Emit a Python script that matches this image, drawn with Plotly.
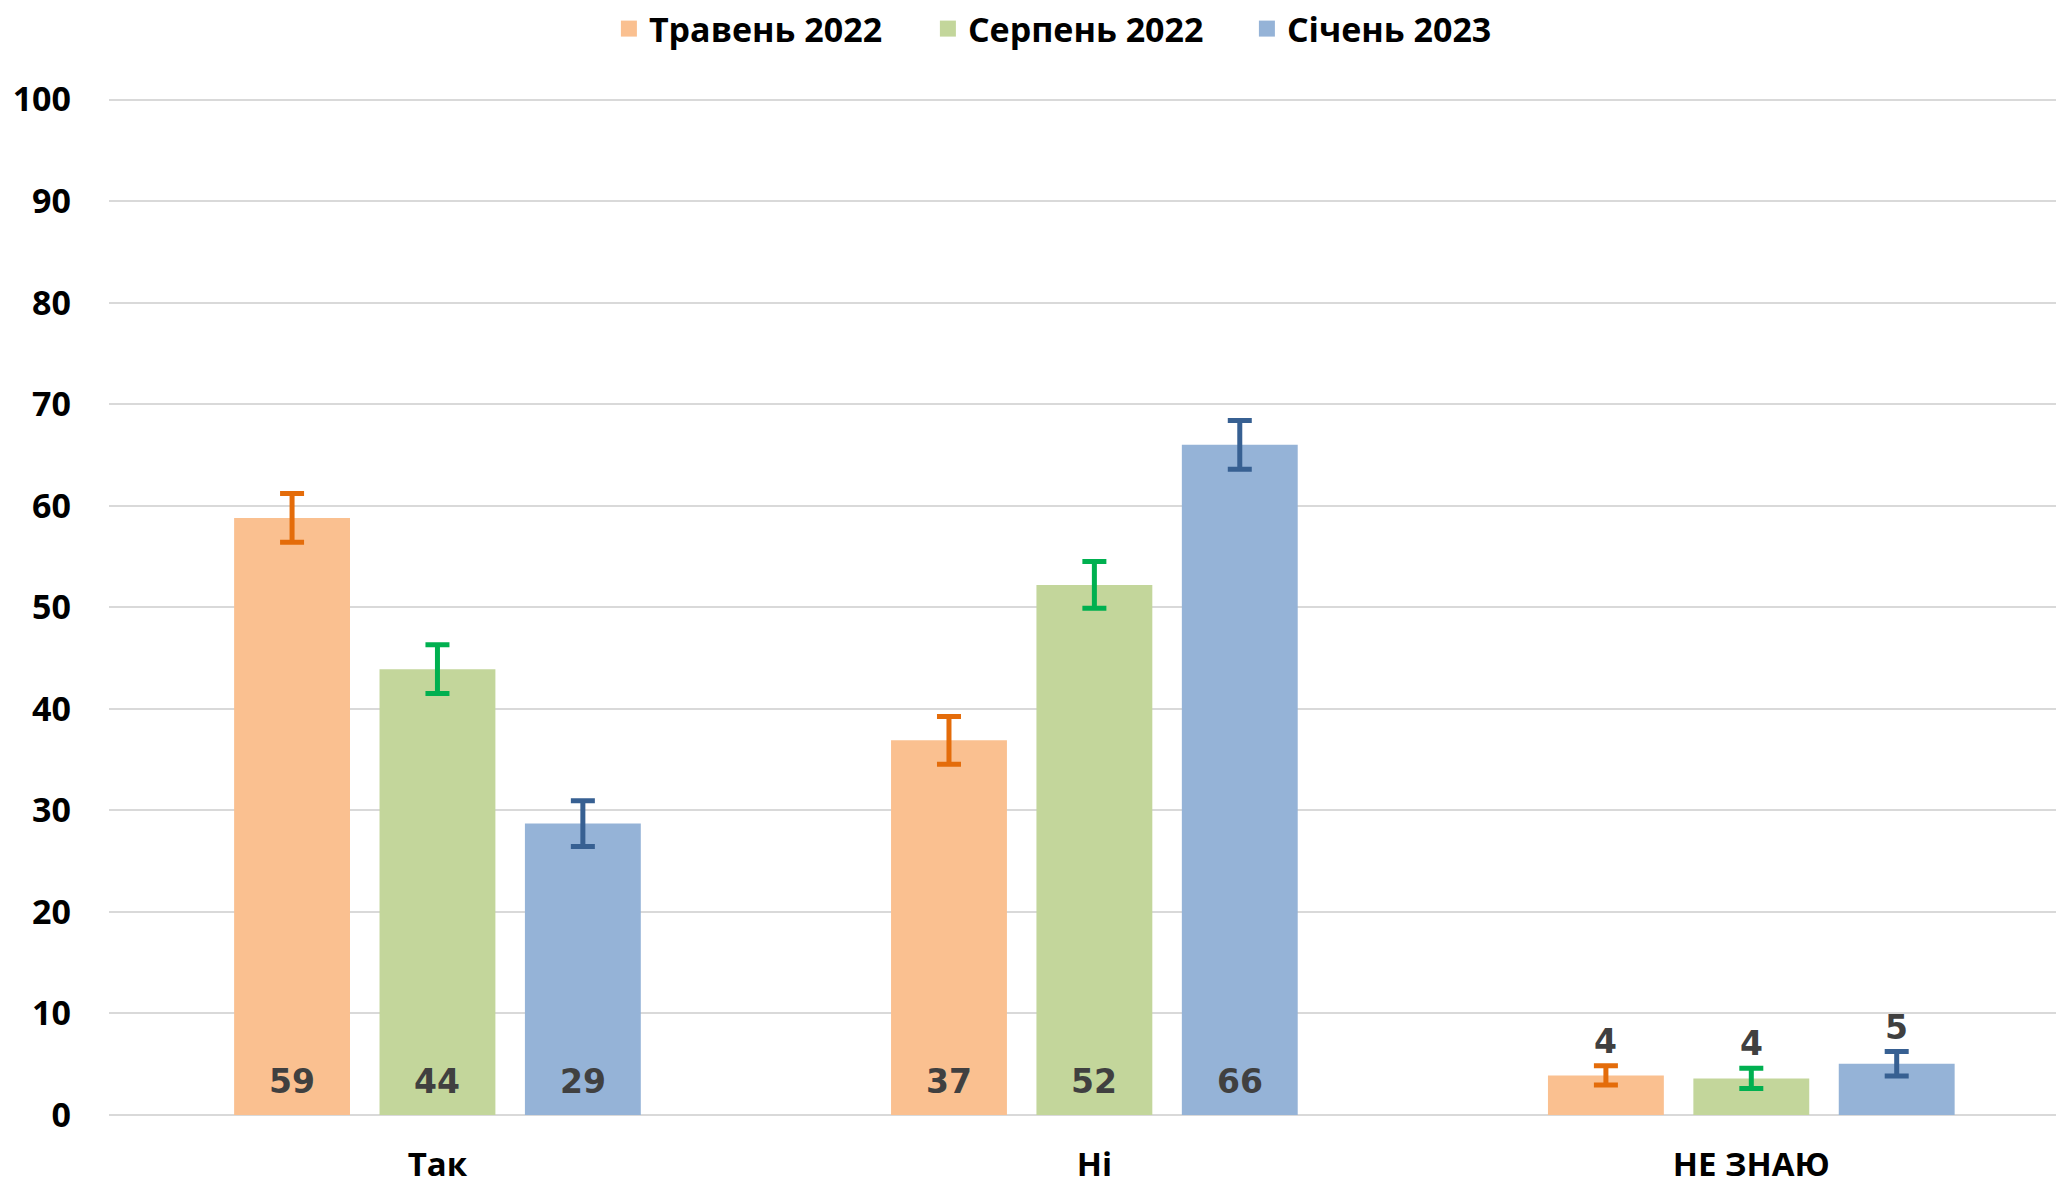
import plotly.graph_objects as go

categories = ["Так", "Ні", "НЕ ЗНАЮ"]
series_names = ["Травень 2022", "Серпень 2022", "Січень 2023"]
may_2022 = [58.8, 36.9, 3.9]
aug_2022 = [43.9, 52.2, 3.6]
jan_2023 = [28.7, 66.0, 5.05]
may_err = [2.4, 2.35, 0.95]
aug_err = [2.4, 2.3, 1.0]
jan_err = [2.25, 2.4, 1.2]
y_ticks = [0, 10, 20, 30, 40, 50, 60, 70, 80, 90, 100]

values = [may_2022, aug_2022, jan_2023]
errors = [may_err, aug_err, jan_err]
bar_colors = ["#FAC090", "#C3D69B", "#95B3D7"]
err_colors = ["#E46C0A", "#00B050", "#376092"]

BARGAP = 0.336
GROUPGAP = 0.203
# page body has an 8px margin; size figure so it fills the 2064x1186 window
W, H = 2056, 1178
ML, MR, MT, MB = 101, 0, 89, 71

label_font = dict(family="DejaVu Sans", size=33, color="#404040", weight="bold")
cal_font = dict(family="Open Sans", size=34, color="#000000", weight="bold")
cat_font = dict(family="Open Sans", size=33, color="#000000", weight="bold")

fig = go.Figure()
for name, vals, errs, bc, ec in zip(series_names, values, errors, bar_colors, err_colors):
    fig.add_trace(go.Bar(
        name=name, x=categories, y=vals, showlegend=False, legendgroup=name,
        marker=dict(color=bc, line=dict(width=0)),
        error_y=dict(type="data", array=errs, visible=True, color=ec,
                     thickness=5, width=12),
        hoverinfo="skip",
    ))
# legend entries with larger square swatches
for name, bc in zip(series_names, bar_colors):
    fig.add_trace(go.Scatter(
        name=name, x=[None], y=[None], mode="markers", legendgroup=name,
        marker=dict(symbol="square", size=16, color=bc),
        hoverinfo="skip",
    ))

# data labels
slot = (1 - BARGAP) / 3
annotations = []
for j, (vals, errs) in enumerate(zip(values, errors)):
    for i, (v, e) in enumerate(zip(vals, errs)):
        xpos = i + (j - 1) * slot
        if v >= 10:
            annotations.append(dict(x=xpos, y=0, xref="x", yref="y", text=f"{v:.0f}",
                                    showarrow=False, yanchor="bottom", yshift=12,
                                    font=label_font))
        else:
            annotations.append(dict(x=xpos, y=v + e, xref="x", yref="y", text=f"{v:.0f}",
                                    showarrow=False, yanchor="bottom", yshift=3,
                                    font=label_font))

fig.update_layout(
    width=W, height=H,
    margin=dict(l=ML, r=MR, t=MT, b=MB, autoexpand=False),
    paper_bgcolor="white", plot_bgcolor="white",
    barmode="group", bargap=BARGAP, bargroupgap=GROUPGAP,
    showlegend=True,
    legend=dict(orientation="h", xref="container", yref="container",
                x=0.525, xanchor="center", y=1 - 21 / H, yanchor="middle",
                font=cal_font, itemclick=False, bgcolor="rgba(0,0,0,0)",
                itemsizing="trace", entrywidth=274),
    annotations=annotations,
    font=cal_font,
)
fig.update_xaxes(type="category", range=[-0.5, 2.476], showgrid=False,
                 showline=False, ticks="", tickfont=cat_font, ticklabelstandoff=27,
                 zeroline=False, automargin=False)
fig.update_yaxes(range=[0, 100.25], tickvals=y_ticks, showgrid=True, gridcolor="#D9D9D9",
                 gridwidth=2, zeroline=True, zerolinecolor="#D9D9D9", zerolinewidth=2,
                 showline=False, ticks="", tickfont=cal_font, ticklabelstandoff=37,
                 automargin=False)

fig.write_html("out.html")
